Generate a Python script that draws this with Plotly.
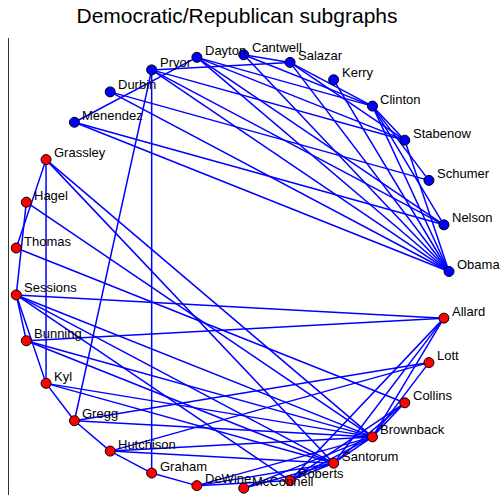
import math
import plotly.graph_objects as go

# Senators placed around the circle, counter-clockwise from the east
senators = ["Obama", "Nelson", "Schumer", "Stabenow", "Clinton", "Kerry",
            "Salazar", "Cantwell", "Dayton", "Pryor", "Durbin", "Menendez",
            "Grassley", "Hagel", "Thomas", "Sessions", "Bunning", "Kyl",
            "Gregg", "Hutchison", "Graham", "DeWine", "McConnell", "Roberts",
            "Santorum", "Brownback", "Collins", "Lott", "Allard"]
party = ["D"] * 12 + ["R"] * 17

edges = [
    ("Pryor", "Salazar"), ("Pryor", "Obama"), ("Pryor", "Nelson"),
    ("Pryor", "Graham"), ("Pryor", "Gregg"), ("Pryor", "Stabenow"),
    ("Dayton", "Menendez"), ("Dayton", "Clinton"), ("Dayton", "Stabenow"),
    ("Dayton", "Nelson"), ("Dayton", "Obama"),
    ("Cantwell", "Salazar"), ("Cantwell", "Clinton"), ("Cantwell", "Obama"),
    ("Salazar", "Clinton"), ("Salazar", "Stabenow"), ("Salazar", "Obama"),
    ("Kerry", "Obama"),
    ("Clinton", "Stabenow"), ("Clinton", "Schumer"), ("Clinton", "Nelson"),
    ("Clinton", "Obama"), ("Stabenow", "Obama"),
    ("Durbin", "Schumer"), ("Durbin", "Obama"),
    ("Menendez", "Obama"), ("Menendez", "Nelson"),
    ("Grassley", "Kyl"), ("Grassley", "Thomas"), ("Grassley", "Brownback"),
    ("Grassley", "Santorum"),
    ("Hagel", "Sessions"), ("Hagel", "Brownback"),
    ("Thomas", "Collins"),
    ("Sessions", "Allard"), ("Sessions", "Bunning"), ("Sessions", "Kyl"),
    ("Sessions", "Brownback"), ("Sessions", "Santorum"), ("Sessions", "Roberts"),
    ("Bunning", "Allard"), ("Bunning", "Brownback"), ("Bunning", "Santorum"),
    ("Kyl", "Gregg"), ("Kyl", "Brownback"), ("Kyl", "Santorum"),
    ("Gregg", "Hutchison"), ("Gregg", "Lott"), ("Gregg", "Brownback"),
    ("Hutchison", "Graham"), ("Hutchison", "Brownback"), ("Hutchison", "Santorum"),
    ("Hutchison", "Lott"),
    ("Graham", "DeWine"),
    ("DeWine", "Roberts"), ("DeWine", "Santorum"), ("DeWine", "Brownback"),
    ("McConnell", "Santorum"), ("McConnell", "Brownback"),
    ("Roberts", "Santorum"), ("Roberts", "Brownback"), ("Roberts", "Collins"),
    ("Roberts", "Allard"),
    ("Santorum", "Brownback"), ("Santorum", "Collins"), ("Santorum", "Allard"),
    ("Brownback", "Collins"), ("Brownback", "Lott"), ("Brownback", "Allard"),
]

# circular layout
n = len(senators)
pos = {}
for k, name in enumerate(senators):
    a = 2 * math.pi * k / n
    pos[name] = (math.cos(a), math.sin(a))

ex, ey = [], []
for a, b in edges:
    ex += [pos[a][0], pos[b][0], None]
    ey += [pos[a][1], pos[b][1], None]

fig = go.Figure()
fig.add_trace(go.Scatter(x=ex, y=ey, mode="lines",
                         line=dict(color="#0000ff", width=1.5),
                         hoverinfo="skip", showlegend=False))

colors = {"D": "#0000ff", "R": "#ff0000"}
fig.add_trace(go.Scatter(
    x=[pos[s][0] for s in senators], y=[pos[s][1] for s in senators],
    mode="markers",
    marker=dict(size=10, color=[colors[p] for p in party],
                line=dict(color="black", width=1)),
    text=senators, hoverinfo="text", showlegend=False))

for s in senators:
    fig.add_annotation(x=pos[s][0], y=pos[s][1], text=s, showarrow=False,
                       xanchor="left", yanchor="middle", xshift=6, yshift=7,
                       font=dict(family="Liberation Sans, Arial", size=13,
                                 color="black"))

fig.update_layout(
    width=500, height=495,
    margin=dict(l=9, r=0, t=38, b=0),
    paper_bgcolor="white", plot_bgcolor="white",
    title=dict(text="Democratic/Republican subgraphs", x=0.474, xanchor="center",
               y=0.968, yanchor="middle",
               font=dict(family="Liberation Sans, Arial", size=21, color="black")),
    xaxis=dict(range=[-1.0276, 1.235], visible=False),
    yaxis=dict(range=[-1.030, 1.076], showline=True, linecolor="#333333",
               linewidth=1, showgrid=False, zeroline=False, showticklabels=False,
               ticks=""),
)

fig.write_html("out.html")
